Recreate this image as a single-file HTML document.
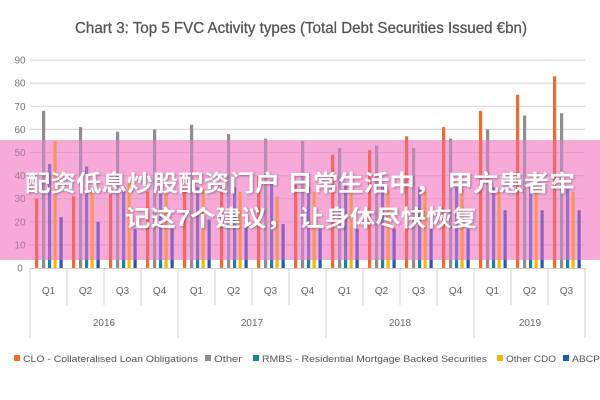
<!DOCTYPE html>
<html><head><meta charset="utf-8"><style>
html,body{margin:0;padding:0;background:#fff;width:600px;height:400px;overflow:hidden}
svg{display:block}
text{font-family:"Liberation Sans","Noto Sans CJK SC",sans-serif}
</style></head><body>
<svg id="s" width="600" height="400" xmlns="http://www.w3.org/2000/svg"></svg>
<script>
var s=document.getElementById('s'),h='';
h+='<text x="301" y="33" text-anchor="middle" font-size="16" fill="#555" stroke="#555" stroke-width="0.3" textLength="452" lengthAdjust="spacingAndGlyphs">Chart 3: Top 5 FVC Activity types (Total Debt Securities Issued €bn)</text>';
function Y(v){return 268-v*2.31;}
for(var i=0;i<=9;i++){var y=Y(i*10);
 if(i>0)h+='<line x1="30" x2="585" y1="'+y+'" y2="'+y+'" stroke="#dadada" stroke-width="1.2"/>';
 h+='<text x="20" y="'+(y+3.5)+'" text-anchor="middle" font-size="10" fill="#777">'+(i*10)+'</text>';}
var d=[[30,68,45,55,22],[31,61,44,34,20],[32,59,35,37,17],[33,60,35,33,17],[34,62,35,34,21],[35,58,35,33,20],[40,56,38,31,19],[36,55,35,33,17],
[49,52,37,34,17],[51,53,36,34,17],[57,52,35,33,17],[61,56,35,34,17],[68,60,35,33,25],[75,66,35,33,25],[83,67,35,33,25]];
var off=[5,12,18,23.5,29.5],cw=37,
 col=['#ef6c2a','#8e8e8e','#1f80a0','#f5b800','#2456b2'],
 bcol=['#f36868','#b98ab8','#9a6fc8','#f8955c','#8a62c4'];
for(var c=0;c<15;c++){var x0=30+c*cw;
 for(var k=0;k<5;k++){var x=x0+off[k],yt=Y(d[c][k]);
  if(yt<140)h+='<rect x="'+x+'" y="'+yt+'" width="3.2" height="'+(140-yt)+'" fill="'+col[k]+'"/>';
 }}
h+='<rect x="0" y="140" width="600" height="120" fill="#f7a9d8"/>';
for(var i=1;i<=5;i++){var y=Y(i*10);
 h+='<line x1="30" x2="585" y1="'+y+'" y2="'+y+'" stroke="#e89ccb" stroke-width="1.2"/>';
 h+='<text x="20" y="'+(y+3.5)+'" text-anchor="middle" font-size="10" fill="#a87898">'+(i*10)+'</text>';}
for(var c=0;c<15;c++){var x0=30+c*cw;
 for(var k=0;k<5;k++){var x=x0+off[k],yt=Math.max(Y(d[c][k]),140);
  h+='<rect x="'+x+'" y="'+yt+'" width="3.2" height="'+(260-yt)+'" fill="'+bcol[k]+'"/>';
  h+='<rect x="'+x+'" y="260" width="3.2" height="8" fill="'+col[k]+'"/>';
 }}
h+='<line x1="30" x2="585" y1="268.5" y2="268.5" stroke="#d0d0d0"/>';
var q=['Q1','Q2','Q3','Q4'];
for(var c=0;c<=15;c++){var x=30+c*cw;var yr=(c%4==0)||c==15;
 h+='<line x1="'+x+'" x2="'+x+'" y1="268" y2="'+(yr?338:305)+'" stroke="#d0d0d0"/>';
 if(c<15)h+='<text x="'+(x+cw/2)+'" y="294" text-anchor="middle" font-size="10" fill="#666">'+q[c%4]+'</text>';}
var yrs=[['2016',104],['2017',252],['2018',400],['2019',530]];
yrs.forEach(function(a){h+='<text x="'+a[1]+'" y="326" text-anchor="middle" font-size="10" fill="#666">'+a[0]+'</text>';});
h+='<text x="300" y="191" text-anchor="middle" font-size="23" font-weight="bold" fill="#fff" textLength="550" lengthAdjust="spacingAndGlyphs" style="text-shadow:1px 1px 2px rgba(90,60,80,.5)">配资低息炒股配资门户 日常生活中， 甲亢患者牢</text>';
h+='<text x="301" y="226" text-anchor="middle" font-size="23" font-weight="bold" fill="#fff" textLength="352" lengthAdjust="spacingAndGlyphs" style="text-shadow:1px 1px 2px rgba(90,60,80,.5)">记这7个建议， 让身体尽快恢复</text>';
var lg=[[14,'CLO - Collateralised Loan Obligations',col[0],175],[205,'Other',col[1],28],[253,'RMBS - Residential Mortgage Backed Securities',col[2],225],[497,'Other CDO',col[3],50],[563,'ABCP',col[4],28]];
lg.forEach(function(a){h+='<rect x="'+a[0]+'" y="355" width="6" height="6" fill="'+a[2]+'"/><text x="'+(a[0]+9)+'" y="362" font-size="9.5" fill="#555" textLength="'+a[3]+'" lengthAdjust="spacingAndGlyphs">'+a[1]+'</text>';});
s.innerHTML=h;
</script>
</body></html>
